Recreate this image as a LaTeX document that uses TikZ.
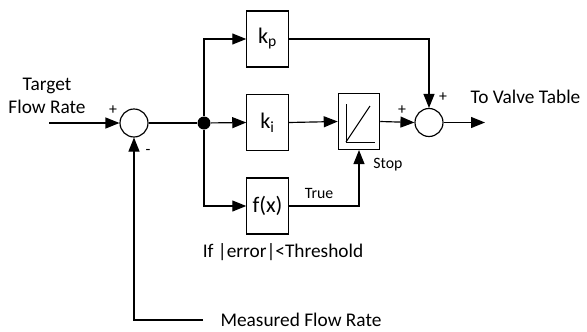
\documentclass[tikz,border=0pt]{standalone}
\usepackage{fontspec}
\setmainfont{Carlito}
\usetikzlibrary{positioning, arrows.meta, calc}

\begin{document}
\begin{tikzpicture}[
  x=0.3mm, y=-0.3mm, line width=0.35mm,
  >={Triangle[length=4.2mm, width=3.3mm]},
  blk/.style={draw, minimum width=12.4mm, minimum height=16.8mm, inner sep=0pt, font=\fontsize{19}{21}\selectfont},
  sumpt/.style={draw, circle, minimum size=8.4mm, inner sep=0pt},
  lbl/.style={font=\fontsize{16.5}{19.5}\selectfont, inner sep=0pt},
  sml/.style={font=\fontsize{13.5}{15}\selectfont, inner sep=0pt}
]
\useasboundingbox (0,0) rectangle (587,331);

% summing points and blocks
\node[sumpt] (sum1) at (134,123) {};
\node[circle, fill, minimum size=3.9mm, inner sep=0pt] (dot) at (204,123) {};
\node[blk] (kp) at (267.5,39) {k\textsubscript{p}};
\node[blk] (ki) at (267.5,122.5) {k\textsubscript{i}};
\node[blk] (fx) at (267.5,206) {f(x)};
\node[blk] (sat) at (359,121.5) {};
\node[sumpt] (sum2) at (429,122.5) {};

\coordinate (in) at (49,123);
\coordinate (out) at (485,122.5);
\coordinate (meas) at (203,320);

% integrator with stop
\draw[line width=0.3mm] ([shift={(-13,-17.5)}]sat.center) -- ([shift={(-13,20.5)}]sat.center) -- ([shift={(16,20.5)}]sat.center);
\draw[line width=0.3mm] ([shift={(-13,20.5)}]sat.center) -- ([shift={(11,-15.5)}]sat.center);

% connections
\draw[->] (in) -- (sum1.west);
\draw (sum1.east) -- (dot);
\draw[->] (dot) |- (kp.west);
\draw[->] (dot) -- (ki.west);
\draw[->] (dot) |- (fx.west);
\draw[->] (ki.east) -- (sat.west);
\draw[->] (sat.east) -- (sum2.west);
\draw[->] (kp.east) -| (sum2.north);
\draw[->] (fx.east) -| (sat.south);
\draw[->] (sum2.east) -- (out);
\draw[->] (meas) -| (sum1.south);

% labels
\node[lbl, align=center] (target) at (47,96) {Target\\Flow Rate};
\node[sml] (p1) at (113,110) {+};
\node[sml] (m1) at (148,152) {-};
\node[sml] (p2) at (402,110) {+};
\node[sml] (p3) at (443,97) {+};
\node[lbl, anchor=west] (valve) at (470,97) {To Valve Table};
\node[sml] (true) at (319,193) {True};
\node[sml] (stop) at (388,165) {Stop};
\node[lbl] (cond) at (283,252) {If |error|<Threshold};
\node[lbl, anchor=west] (mflow) at (220,320) {Measured Flow Rate};
\end{tikzpicture}
\end{document}
